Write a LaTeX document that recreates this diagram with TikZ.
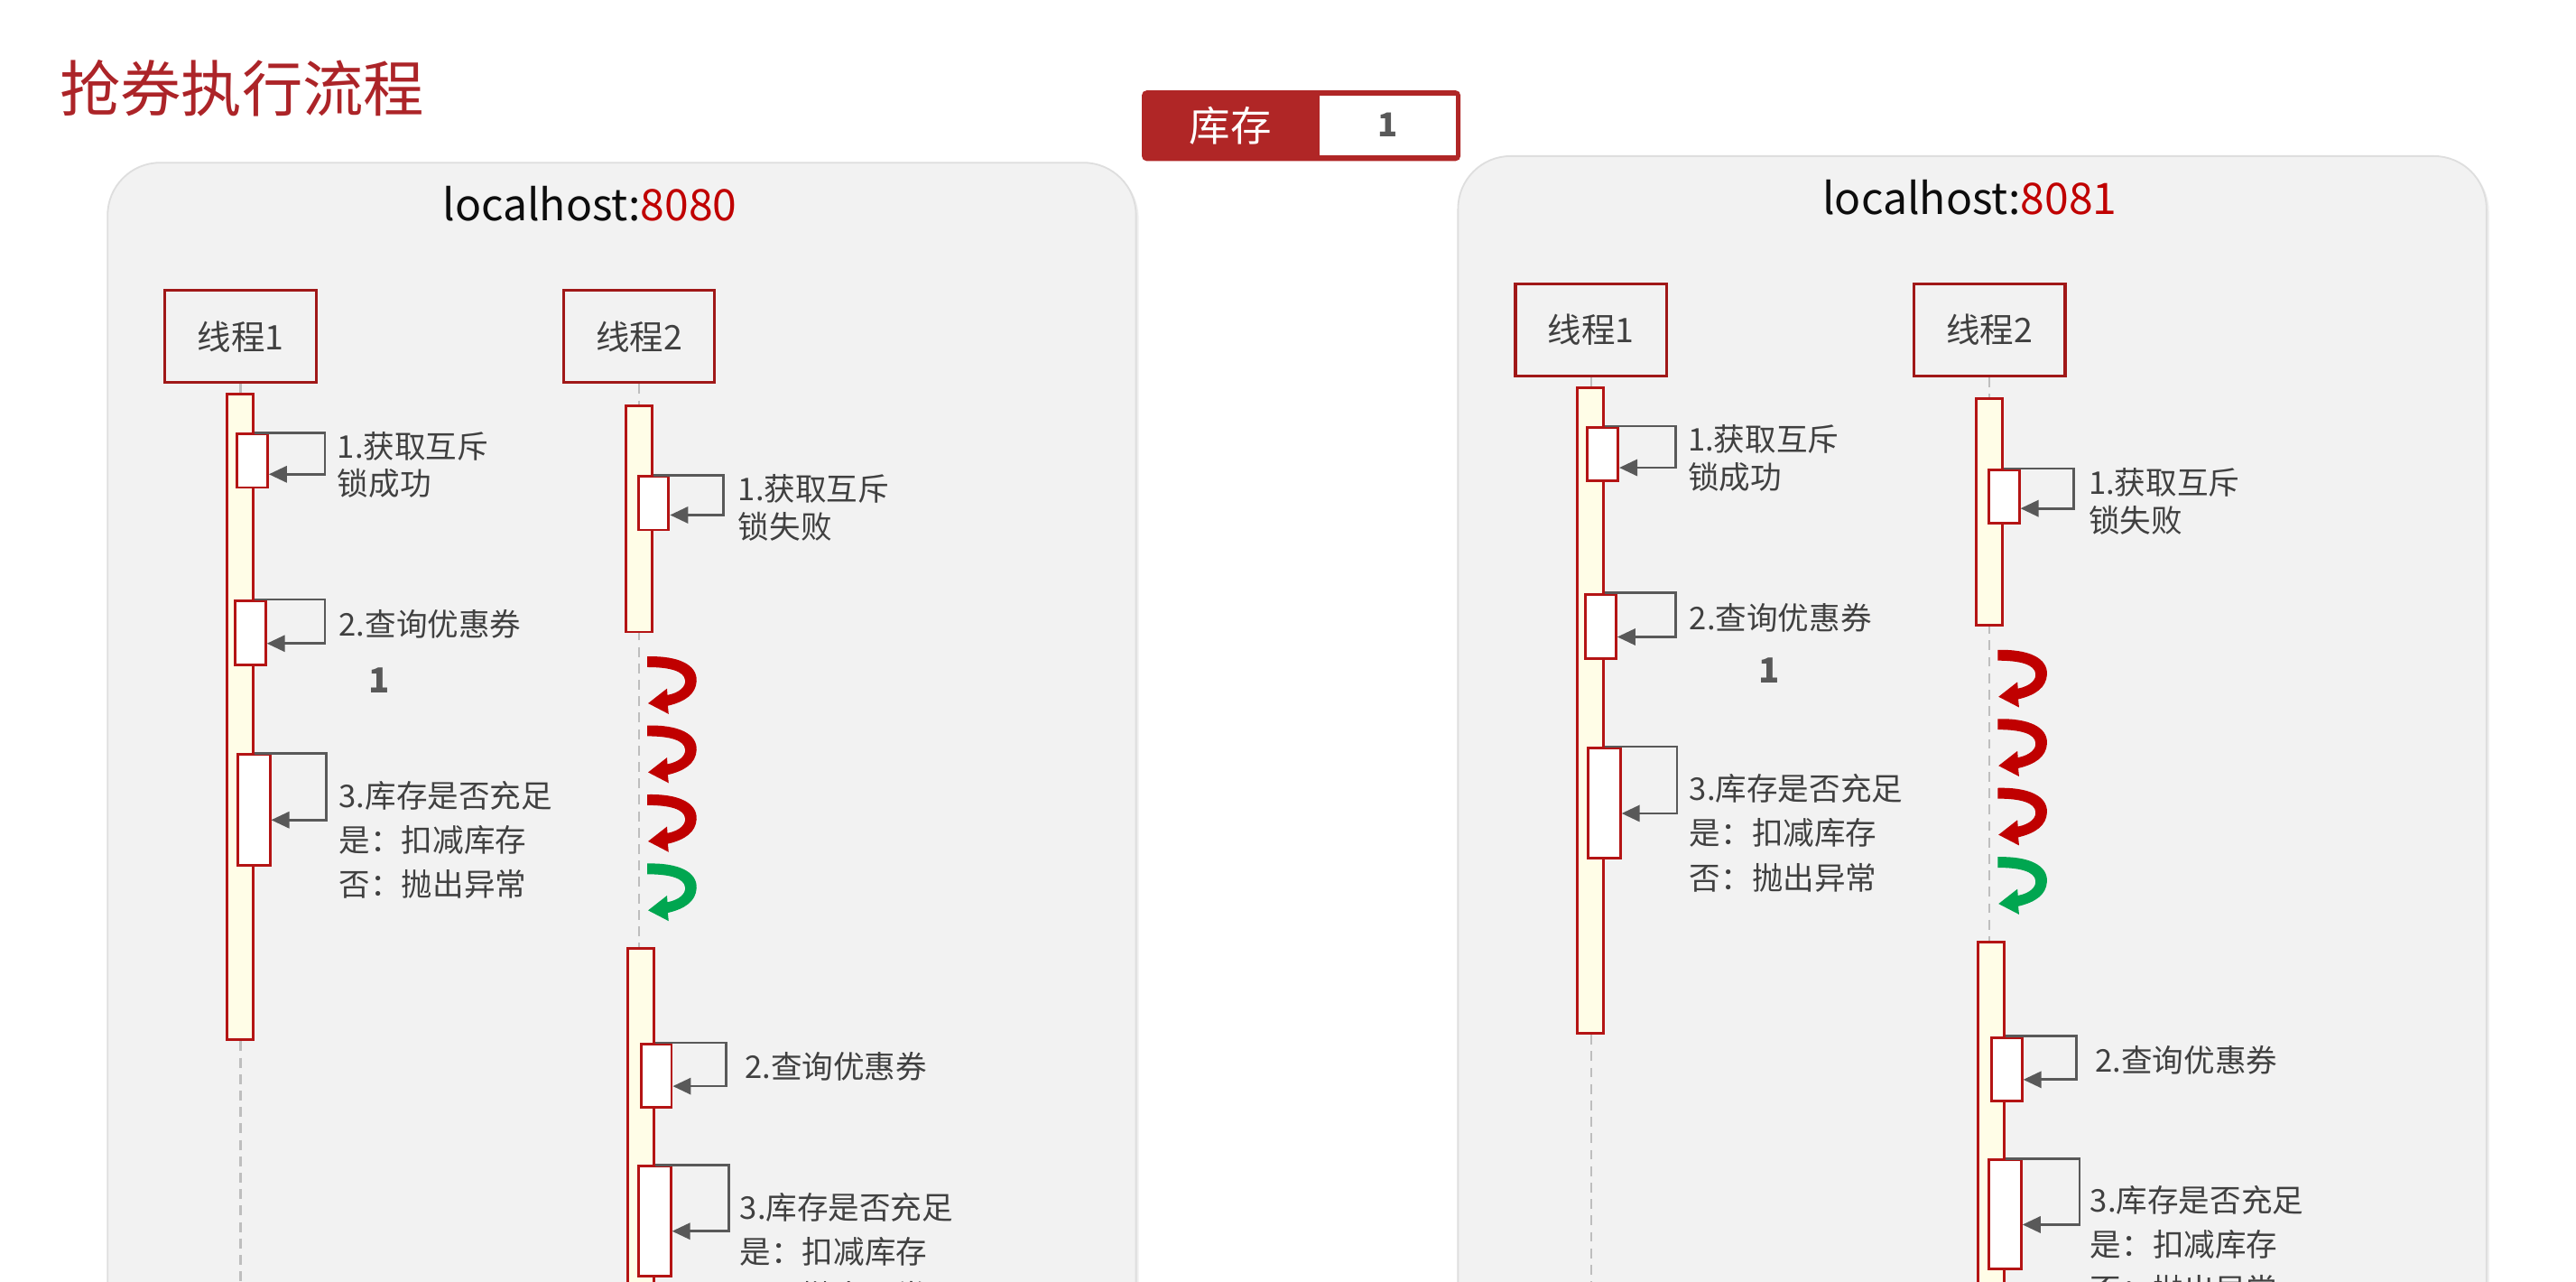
\documentclass[tikz,border=0pt]{standalone}
\usepackage{fontspec}
\setmainfont{Noto Sans CJK SC}
\usetikzlibrary{calc,shadows,arrows.meta}

\definecolor{titlered}{RGB}{172,36,40}
\definecolor{stockred}{RGB}{176,38,38}
\definecolor{portred}{RGB}{192,0,0}
\definecolor{threadred}{RGB}{160,24,24}
\definecolor{barred}{RGB}{180,20,20}
\definecolor{baryellow}{RGB}{255,253,231}
\definecolor{panelgray}{RGB}{242,242,242}
\definecolor{panelline}{RGB}{222,222,222}
\definecolor{lifegray}{RGB}{190,190,190}
\definecolor{arrowgray}{RGB}{89,89,89}
\definecolor{textgray}{RGB}{64,64,64}
\definecolor{curlred}{RGB}{192,0,0}
\definecolor{curlgreen}{RGB}{0,166,80}

\tikzset{
  panel/.style={fill=panelgray, draw=panelline, line width=0.5pt, rounded corners=16pt,
    drop shadow={opacity=0.12, shadow xshift=0.8pt, shadow yshift=-0.8pt}},
  hostlabel/.style={font=\fontsize{13.2}{15}\selectfont, text=black!95},
  threadbox/.style={draw=threadred, line width=0.9pt, fill=panelgray, minimum width=46pt,
    minimum height=28pt, text=textgray, font=\fontsize{10.3}{12}\selectfont},
  lifeline/.style={draw=lifegray, line width=0.6pt, dash pattern=on 3pt off 2pt},
  actbar/.style={draw=barred, line width=0.8pt, fill=baryellow, minimum width=8pt, inner sep=0pt, anchor=north},
  subact/.style={draw=barred, line width=0.8pt, fill=white, minimum width=9.25pt, inner sep=0pt, anchor=north},
  selfmsg/.style={draw=arrowgray, line width=0.75pt, -{Triangle[width=5pt,length=5.5pt]}},
  steptext/.style={anchor=west, inner sep=0pt, align=left, text=textgray, font=\fontsize{9.5}{11.5}\selectfont},
  steplong/.style={steptext, font=\fontsize{9.5}{13.5}\selectfont},
  curlarrow/.pic={
    \fill[pic actions] (0,0) .. controls (19,-0.5) and (30.5,5) .. (30,15)
      .. controls (29.5,23) and (23,27.5) .. (12.5,30)
      -- (13,35) -- (0.5,28.5) -- (12,19.5) -- (12.3,23.5)
      .. controls (20,22) and (23.5,18) .. (23,14.5)
      .. controls (22.5,9) and (14,6.5) .. (0,6.5) -- cycle;
  }
}

\begin{document}
\begin{tikzpicture}[x=0.5pt, y=-0.5pt]
\useasboundingbox (0,0) rectangle (1568,780);
\clip (0,0) rectangle (1568,780);
\fill[white] (0,0) rectangle (1568,780);

\node[font=\fontsize{18.5}{22}\selectfont, text=titlered] (title) at (147.4,53.5) {抢券执行流程};

% two servers, same flow
\foreach \dx/\dy/\port/\hx/\onex/\oney in {0/0/8080/359/231/414, 822/-4/8081/377/255/412}{
\begin{scope}[shift={(\dx,\dy)}]
\draw[panel] (65.5,99) rectangle (691.5,850);
\node[hostlabel] (host) at (\hx,124) {localhost:\textcolor{portred}{\port}};
\node[threadbox] (t1) at (146.4,204.8) {线程1};
\node[threadbox] (t2) at (389,204.8) {线程2};
\draw[lifeline] (t1.south) -- (t1.south |- 0,850);
\draw[lifeline] (t2.south) -- (t2.south |- 0,850);

% thread 1
\node[actbar, minimum height=196.5pt] (t1bar) at (146,239) {};
\node[subact, minimum height=16.3pt] (t1s1) at (153.6,263.3) {};
\node[subact, minimum height=19.5pt] (t1s2) at (152.4,364.8) {};
\node[subact, minimum height=33.6pt, minimum width=9.8pt] (t1s3) at (154.5,458.4) {};
\draw[selfmsg] (t1bar.east |- t1s1.north) -- ++(43,0) |- ($(t1s1.north east)!.74!(t1s1.south east)$);
\draw[selfmsg] (t1bar.east |- t1s2.north) -- ++(43,0) |- ($(t1s2.north east)!.66!(t1s2.south east)$);
\draw[selfmsg] (t1bar.east |- t1s3.north) -- ++(44,0) |- ($(t1s3.north east)!.59!(t1s3.south east)$);
\node[steptext] (t1lock) at (205,282.9) {1.获取互斥\\锁成功};
\node[steptext] (t1query) at (206,380) {2.查询优惠券};
\node[steplong] (t1stock) at (206,511) {3.库存是否充足\\是：扣减库存\\否：抛出异常};
\node[text=arrowgray, font=\bfseries\fontsize{10.5}{12}\selectfont] (t1num) at (\onex,\oney) {1};

% thread 2
\node[actbar, minimum height=68.9pt] (t2bar) at (389,246) {};
\node[subact, minimum height=16.25pt] (t2s1) at (397.8,289.2) {};
\draw[selfmsg] (t2bar.east |- t2s1.north) -- ++(42.5,0) |- ($(t2s1.north east)!.71!(t2s1.south east)$);
\node[steptext] (t2lock) at (449,309) {1.获取互斥\\锁失败};
\foreach \k/\c in {0/curlred,1/curlred,2/curlred,3/curlgreen}
  \pic[fill=\c] at (394,{399.5+42*\k}) {curlarrow};
\node[actbar, minimum height=140pt] (t2barb) at (390,576.4) {};
\node[subact, minimum height=19.2pt] (t2s2) at (399.5,634.6) {};
\node[subact, minimum height=33.3pt, minimum width=9.8pt] (t2s3) at (398.5,709) {};
\draw[selfmsg] (t2barb.east |- t2s2.north) -- ++(43,0) |- ($(t2s2.north east)!.66!(t2s2.south east)$);
\draw[selfmsg] (t2barb.east |- t2s3.north) -- ++(45,0) |- ($(t2s3.north east)!.59!(t2s3.south east)$);
\node[steptext] (t2query) at (453,649) {2.查询优惠券};
\node[steplong] (t2stock) at (450,761.5) {3.库存是否充足\\是：扣减库存\\否：抛出异常};
\end{scope}
}

% stock counter
\node[fill=stockred, rounded corners=1.5pt, minimum width=97pt, minimum height=21.5pt, inner sep=0pt] (stock) at (792,76.5) {};
\node[text=white, font=\fontsize{12.5}{14}\selectfont, inner sep=0pt] (stocklbl) at (749,76.5) {库存};
\node[fill=white, minimum width=41.5pt, minimum height=18.25pt, inner sep=0pt, text=arrowgray,
  font=\bfseries\fontsize{10}{12}\selectfont] (stockval) at (844.5,76.25) {1};
\end{tikzpicture}
\end{document}
